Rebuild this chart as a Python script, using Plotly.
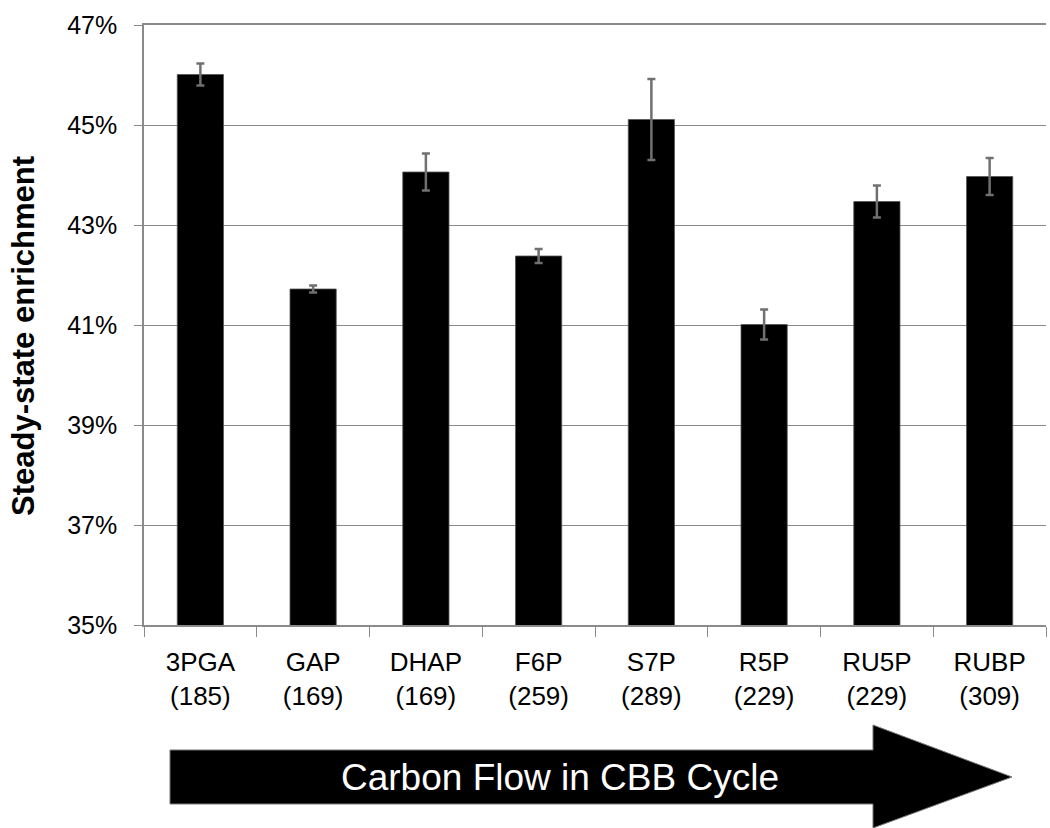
import plotly.graph_objects as go

METABOLITES = ['3PGA', 'GAP', 'DHAP', 'F6P', 'S7P', 'R5P', 'RU5P', 'RUBP']
MASSES = ['185', '169', '169', '259', '289', '229', '229', '309']
ENRICHMENT = [46.01, 41.72, 44.06, 42.38, 45.11, 41.01, 43.47, 43.97]
ENRICHMENT_ERR = [0.22, 0.07, 0.37, 0.14, 0.81, 0.30, 0.32, 0.37]
Y_TICKS = [35, 37, 39, 41, 43, 45, 47]

W, H = 1050, 828
LEFT, RIGHT, TOP, BOTTOM = 144, 1046, 25, 625
FONT = 'Liberation Sans, Arial, sans-serif'
GREY = '#8a8a8a'


def px(x, y):
    # pixel position -> paper coordinates (for the decorations below the axis)
    return (x - LEFT) / (RIGHT - LEFT), (BOTTOM - y) / (BOTTOM - TOP)


labels = [f'{m}<br>({n})' for m, n in zip(METABOLITES, MASSES)]

fig = go.Figure()
fig.add_trace(go.Bar(
    x=labels, y=ENRICHMENT,
    marker=dict(color='black', line=dict(color='#555555', width=0.8)),
    error_y=dict(type='data', array=ENRICHMENT_ERR, visible=True,
                 color='#707070', thickness=2.5, width=4),
    width=0.41,
))

# big arrow "Carbon Flow in CBB Cycle"
pts = [(170, 750), (873, 750), (873, 725), (1012, 777),
       (873, 828), (873, 804), (170, 804)]
path = 'M ' + ' L '.join(f'{px(x, y)[0]:.5f},{px(x, y)[1]:.5f}' for x, y in pts) + ' Z'
fig.add_shape(type='path', path=path, xref='paper', yref='paper',
              fillcolor='black', line=dict(color='#777777', width=1))

tx, ty = px(560, 777)
fig.add_annotation(x=tx, y=ty, xref='paper', yref='paper', text='Carbon Flow in CBB Cycle',
                   showarrow=False, font=dict(family=FONT, size=37, color='white'),
                   xanchor='center', yanchor='middle')

ax, ay = px(23, 336)
fig.add_annotation(x=ax, y=ay, xref='paper', yref='paper', text='<b>Steady-state enrichment</b>',
                   showarrow=False, textangle=-90, font=dict(family=FONT, size=31, color='black'),
                   xanchor='center', yanchor='middle')

fig.update_layout(
    width=W, height=H,
    margin=dict(l=LEFT, r=W - RIGHT, t=TOP, b=H - BOTTOM),
    plot_bgcolor='white', paper_bgcolor='white',
    showlegend=False,
    font=dict(family=FONT, color='black'),
    xaxis=dict(showgrid=False, showline=True, linecolor=GREY, linewidth=1.5, mirror=True,
               ticks='outside', tickson='boundaries', ticklen=10, tickcolor=GREY,
               tickfont=dict(size=26), ticklabelstandoff=13),
    yaxis=dict(range=[35, 47], tickvals=Y_TICKS, ticktext=[f'{v}%' for v in Y_TICKS],
               showgrid=True, gridcolor=GREY, gridwidth=1.2,
               showline=True, linecolor=GREY, linewidth=1.5,
               ticks='outside', ticklen=8, tickcolor=GREY,
               tickfont=dict(size=25), ticklabelstandoff=12, zeroline=False),
)

fig.write_html('out.html', config={'displayModeBar': False},
               post_script="document.body.style.margin='0';")
